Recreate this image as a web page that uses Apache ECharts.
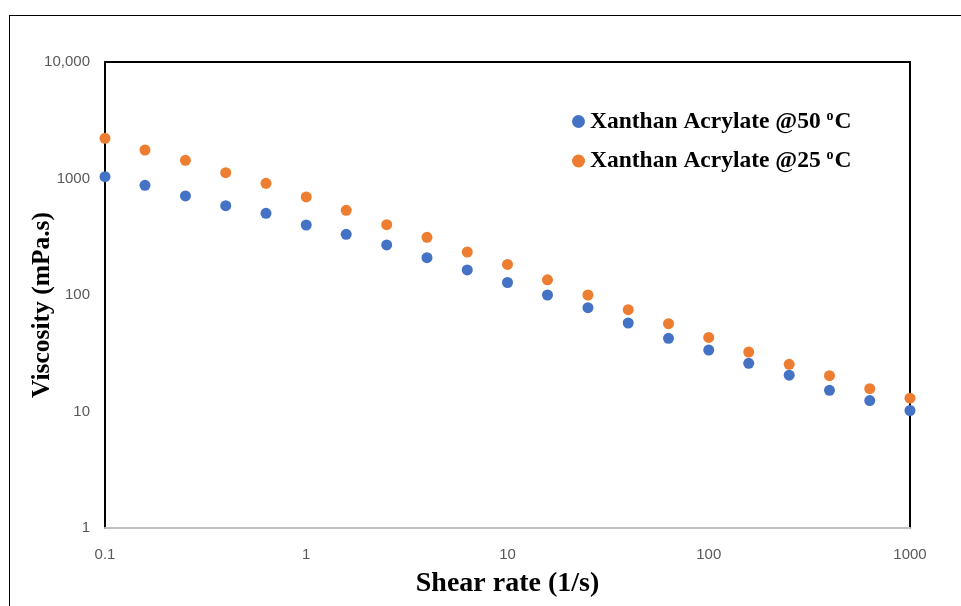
<!DOCTYPE html>
<html>
<head>
<meta charset="utf-8">
<script src="https://cdn.jsdelivr.net/npm/echarts@6/dist/echarts.min.js"></script>
<style>
  html, body { margin: 0; padding: 0; background: #fff; }
  #frame {
    position: absolute; left: 9px; top: 15px; width: 960px; height: 600px;
    border-top: 1.5px solid #000; border-left: 1.5px solid #000;
  }
  #echart { position: absolute; left: 0; top: 0; width: 961px; height: 606px; }
</style>
</head>
<body>
<div id="frame"></div>
<div id="echart"></div>
<script>
// shear rate (1/s)
const shearRate = [0.1, 0.158, 0.251, 0.398, 0.631, 1, 1.58, 2.51, 3.98, 6.31,
  10, 15.8, 25.1, 39.8, 63.1, 100, 158, 251, 398, 631, 1000];
// viscosity (mPa.s) at 50 oC
const visc50 = [1036, 874, 708, 584, 503, 399, 332, 269, 209, 164,
  128, 100, 77.8, 57.5, 42.5, 33.7, 25.9, 20.5, 15.2, 12.4, 10.2];
// viscosity (mPa.s) at 25 oC
const visc25 = [2213, 1756, 1433, 1121, 910, 694, 533, 401, 313, 234,
  183, 135, 100, 74.8, 56.7, 43.2, 32.4, 25.4, 20.3, 15.7, 13.0];
const yTickLabels = { 1: "1", 10: "10", 100: "100", 1000: "1000", 10000: "10,000" };

const pairs = (ys) => shearRate.map((x, i) => [x, ys[i]]);

let myChart = echarts.init(document.getElementById("echart"));

const tickFont = { color: "#595959", fontSize: 15, fontFamily: "Liberation Sans" };
const nameFont = { color: "#000", fontWeight: "bold", fontFamily: "Liberation Serif" };

let option = {
  animation: false,
  grid: { left: 105, right: 51, top: 62, bottom: 78 },
  legend: {
    left: 567, top: 104, orient: "vertical", itemGap: 15,
    icon: "circle", itemWidth: 13, itemHeight: 13,
    formatter: (name) => name.replace(" oC", " {sup|o}C"),
    textStyle: {
      color: "#000", fontSize: 23.5, fontWeight: "bold", fontFamily: "Liberation Serif",
      rich: {
        sup: { fontSize: 14, fontWeight: "bold", fontFamily: "Liberation Serif", verticalAlign: "top", padding: [0, 1, 11, 0] }
      }
    },
    data: ["Xanthan Acrylate @50 oC", "Xanthan Acrylate @25 oC"]
  },
  xAxis: [
    {
      type: "log", min: 0.1, max: 1000, logBase: 10,
      name: "Shear rate (1/s)", nameLocation: "middle", nameGap: 42,
      nameTextStyle: { ...nameFont, fontSize: 28 },
      axisLine: { show: true, lineStyle: { color: "#bfbfbf", width: 2 } },
      axisTick: { show: false },
      splitLine: { show: false },
      axisLabel: { ...tickFont, margin: 19, formatter: (v) => String(v) }
    },
    {
      type: "log", min: 0.1, max: 1000, position: "top",
      axisLine: { show: true, lineStyle: { color: "#000", width: 2 } },
      axisTick: { show: false }, axisLabel: { show: false }, splitLine: { show: false }
    }
  ],
  yAxis: [
    {
      type: "log", min: 1, max: 10000, logBase: 10,
      name: "Viscosity (mPa.s)", nameLocation: "middle", nameGap: 50,
      nameMoveOverlap: false,
      nameTextStyle: { ...nameFont, fontSize: 25.5, padding: [0, 20, 0, 0] },
      axisLine: { show: true, lineStyle: { color: "#000", width: 2 } },
      axisTick: { show: false },
      splitLine: { show: false },
      axisLabel: { ...tickFont, margin: 15, formatter: (v) => yTickLabels[Math.round(v)] || String(v) }
    },
    {
      type: "log", min: 1, max: 10000, position: "right",
      axisLine: { show: true, lineStyle: { color: "#000", width: 2 } },
      axisTick: { show: false }, axisLabel: { show: false }, splitLine: { show: false }
    }
  ],
  series: [
    {
      name: "Xanthan Acrylate @50 oC", type: "scatter", symbolSize: 11,
      itemStyle: { color: "#4472c4", opacity: 1 }, data: pairs(visc50), z: 3
    },
    {
      name: "Xanthan Acrylate @25 oC", type: "scatter", symbolSize: 11,
      itemStyle: { color: "#ed7d31", opacity: 1 }, data: pairs(visc25), z: 3
    }
  ]
};

myChart.setOption(option);
</script>
</body>
</html>
